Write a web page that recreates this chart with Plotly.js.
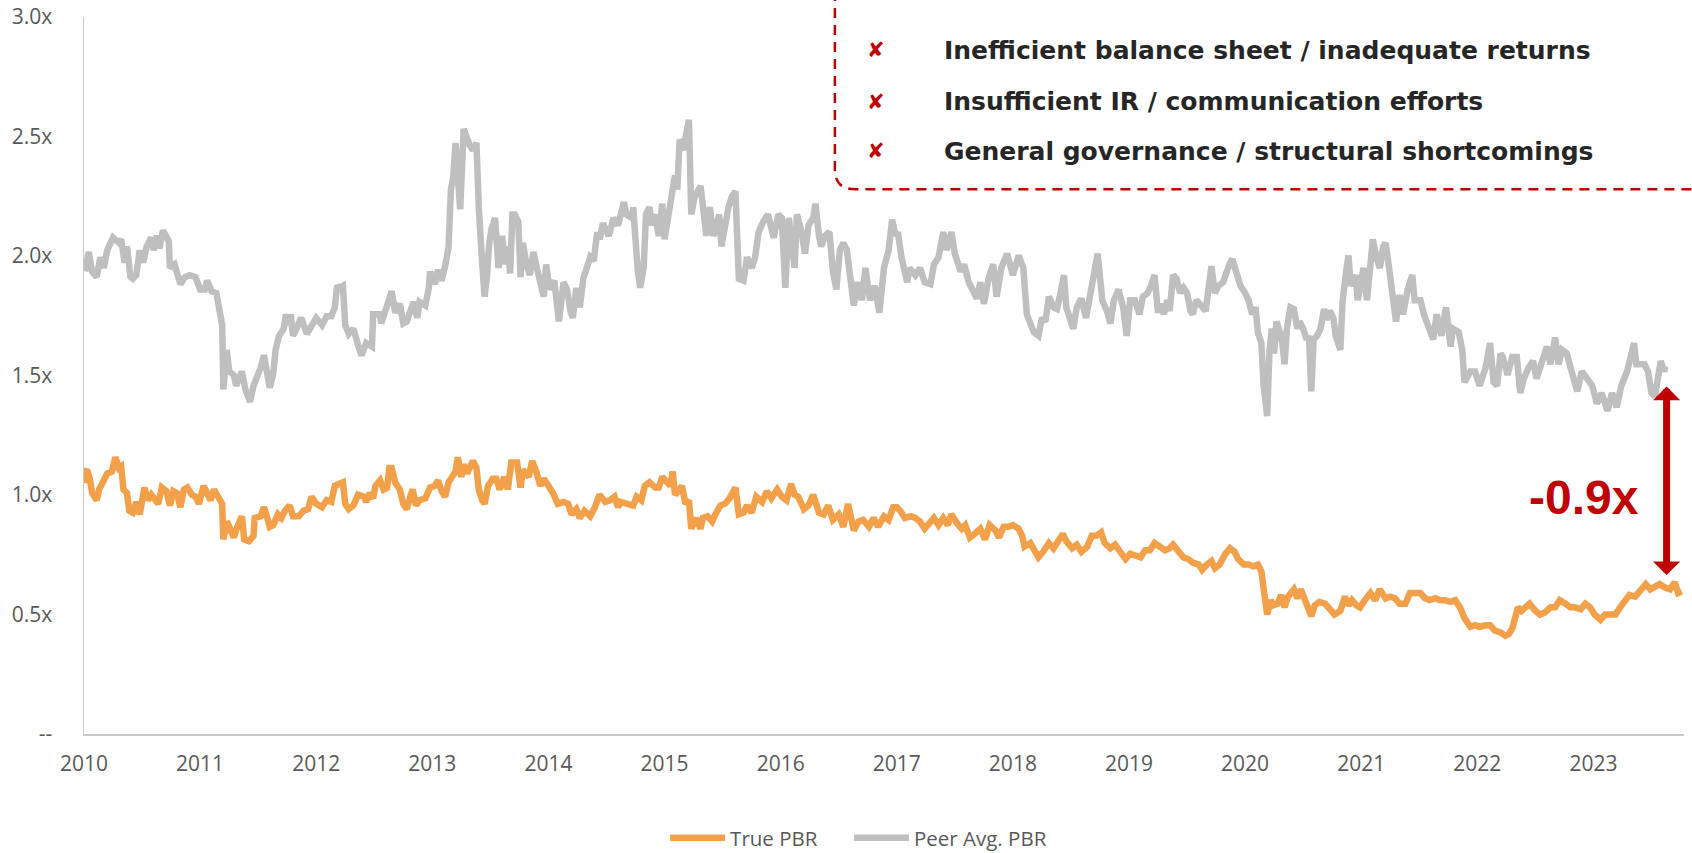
<!DOCTYPE html>
<html>
<head>
<meta charset="utf-8">
<script src="https://cdn.plot.ly/plotly-3.0.1.min.js"></script>
<style>
html,body{margin:0;padding:0;background:#fff;}
#chart{width:1692px;height:853px;}
</style>
</head>
<body>
<div id="chart"></div>
<script>
// ---------- DATA ----------
const yearTicks = [2010, 2011, 2012, 2013, 2014, 2015, 2016, 2017, 2018, 2019, 2020, 2021, 2022, 2023];
const yTickVals = [0, 0.5, 1.0, 1.5, 2.0, 2.5, 3.0];
const yTickText = ['--', '0.5x', '1.0x', '1.5x', '2.0x', '2.5x', '3.0x'];
const seriesNames = ['True PBR', 'Peer Avg. PBR'];

// [decimal year, P/B multiple]
const truePBR = [
[2010.00,1.05],[2010.01,1.10],[2010.03,1.098],[2010.05,1.068],[2010.07,1.008],[2010.11,0.978],[2010.13,1.023],[2010.17,1.068],[2010.20,1.09],[2010.24,1.098],[2010.27,1.158],[2010.30,1.113],[2010.32,1.12],[2010.34,1.023],[2010.37,1.008],[2010.39,0.934],[2010.42,0.926],[2010.45,0.971],[2010.48,0.919],[2010.52,1.031],[2010.55,0.978],[2010.58,1.001],[2010.61,0.978],[2010.64,0.963],[2010.67,1.031],[2010.71,1.016],[2010.74,0.956],[2010.77,1.016],[2010.80,1.008],[2010.83,0.949],[2010.86,1.023],[2010.89,1.031],[2010.93,1.001],[2010.96,0.993],[2010.99,0.963],
[2011.03,1.038],[2011.06,1.008],[2011.09,0.978],[2011.12,1.023],[2011.16,0.993],[2011.19,0.963],[2011.20,0.814],[2011.23,0.889],[2011.26,0.859],[2011.29,0.822],[2011.32,0.867],[2011.36,0.911],[2011.38,0.814],[2011.42,0.807],[2011.46,0.829],[2011.47,0.904],[2011.52,0.911],[2011.55,0.949],[2011.57,0.919],[2011.60,0.867],[2011.63,0.874],[2011.67,0.919],[2011.70,0.904],[2011.73,0.934],[2011.77,0.956],[2011.80,0.911],[2011.85,0.911],[2011.89,0.934],[2011.93,0.941],[2011.96,0.993],
[2012.00,0.963],[2012.05,0.949],[2012.09,0.978],[2012.13,0.971],[2012.16,1.038],[2012.20,1.046],[2012.23,1.053],[2012.25,0.963],[2012.28,0.941],[2012.32,0.956],[2012.36,1.001],[2012.41,0.993],[2012.43,0.971],[2012.46,1.008],[2012.49,0.986],[2012.51,1.038],[2012.55,1.061],[2012.58,1.023],[2012.61,1.031],[2012.63,1.113],[2012.65,1.113],[2012.68,1.053],[2012.72,1.023],[2012.75,0.963],[2012.78,0.941],[2012.81,0.993],[2012.83,1.023],[2012.86,0.956],[2012.89,0.978],[2012.94,0.986],[2012.98,1.031],
[2013.02,1.038],[2013.05,1.061],[2013.08,1.016],[2013.11,0.993],[2013.14,1.053],[2013.17,1.083],[2013.20,1.098],[2013.22,1.158],[2013.25,1.076],[2013.27,1.128],[2013.30,1.09],[2013.32,1.113],[2013.35,1.143],[2013.38,1.113],[2013.40,1.023],[2013.43,0.978],[2013.45,0.963],[2013.48,1.038],[2013.52,1.068],[2013.55,1.068],[2013.58,1.023],[2013.62,1.076],[2013.65,1.023],[2013.68,1.136],[2013.73,1.136],[2013.76,1.031],[2013.78,1.106],[2013.83,1.076],[2013.86,1.143],[2013.90,1.09],[2013.93,1.038],[2013.96,1.068],
[2014.00,1.038],[2014.04,1.008],[2014.08,0.963],[2014.13,0.971],[2014.17,0.963],[2014.20,0.919],[2014.24,0.941],[2014.27,0.904],[2014.31,0.934],[2014.36,0.911],[2014.40,0.949],[2014.44,1.001],[2014.49,0.971],[2014.53,0.978],[2014.57,0.993],[2014.60,0.949],[2014.62,0.971],[2014.67,0.963],[2014.73,0.956],[2014.76,0.993],[2014.80,0.978],[2014.83,1.038],[2014.87,1.053],[2014.92,1.031],[2014.95,1.031],[2014.98,1.076],
[2015.02,1.053],[2015.05,1.038],[2015.07,1.098],[2015.09,1.001],[2015.12,1.016],[2015.15,1.038],[2015.18,0.963],[2015.21,0.978],[2015.23,0.859],[2015.27,0.904],[2015.31,0.859],[2015.33,0.904],[2015.37,0.911],[2015.41,0.889],[2015.43,0.911],[2015.48,0.956],[2015.52,0.963],[2015.56,0.986],[2015.61,1.031],[2015.64,0.919],[2015.68,0.926],[2015.71,0.956],[2015.75,0.926],[2015.79,0.993],[2015.84,0.971],[2015.88,1.016],[2015.92,0.986],[2015.97,1.023],
[2016.01,0.993],[2016.05,0.978],[2016.09,1.046],[2016.12,1.001],[2016.15,0.993],[2016.20,0.941],[2016.24,0.956],[2016.28,1.001],[2016.33,0.926],[2016.37,0.919],[2016.41,0.956],[2016.45,0.896],[2016.50,0.919],[2016.54,0.867],[2016.58,0.963],[2016.63,0.852],[2016.67,0.889],[2016.71,0.896],[2016.76,0.867],[2016.80,0.904],[2016.84,0.867],[2016.89,0.911],[2016.93,0.896],[2016.97,0.949],
[2017.00,0.949],[2017.03,0.934],[2017.07,0.904],[2017.12,0.911],[2017.16,0.904],[2017.20,0.889],[2017.24,0.859],[2017.29,0.889],[2017.32,0.904],[2017.36,0.874],[2017.40,0.904],[2017.44,0.874],[2017.47,0.919],[2017.52,0.881],[2017.56,0.859],[2017.59,0.874],[2017.63,0.822],[2017.67,0.837],[2017.72,0.859],[2017.76,0.814],[2017.80,0.874],[2017.85,0.852],[2017.88,0.822],[2017.92,0.867],[2017.96,0.867],
[2018.00,0.874],[2018.05,0.859],[2018.08,0.829],[2018.10,0.784],[2018.15,0.799],[2018.18,0.769],[2018.22,0.739],[2018.26,0.762],[2018.31,0.799],[2018.35,0.777],[2018.39,0.814],[2018.43,0.837],[2018.46,0.807],[2018.51,0.777],[2018.55,0.792],[2018.59,0.762],[2018.64,0.784],[2018.68,0.829],[2018.72,0.829],[2018.76,0.844],[2018.79,0.799],[2018.84,0.777],[2018.88,0.792],[2018.92,0.769],[2018.97,0.732],
[2019.01,0.754],[2019.05,0.747],[2019.10,0.739],[2019.14,0.769],[2019.18,0.769],[2019.22,0.799],[2019.27,0.784],[2019.31,0.769],[2019.35,0.777],[2019.38,0.792],[2019.43,0.762],[2019.47,0.739],[2019.51,0.732],[2019.55,0.717],[2019.60,0.709],[2019.63,0.687],[2019.67,0.709],[2019.71,0.724],[2019.74,0.694],[2019.78,0.709],[2019.83,0.754],[2019.87,0.777],[2019.91,0.762],[2019.94,0.732],[2019.99,0.709],
[2020.03,0.709],[2020.07,0.702],[2020.11,0.709],[2020.14,0.68],[2020.16,0.59],[2020.19,0.5],[2020.22,0.56],[2020.24,0.538],[2020.28,0.545],[2020.31,0.582],[2020.34,0.53],[2020.37,0.575],[2020.42,0.605],[2020.45,0.568],[2020.48,0.605],[2020.52,0.56],[2020.54,0.538],[2020.57,0.493],[2020.60,0.538],[2020.64,0.553],[2020.69,0.545],[2020.73,0.522],[2020.77,0.5],[2020.82,0.515],[2020.86,0.575],[2020.89,0.538],[2020.92,0.56],[2020.96,0.538],[2020.99,0.53],
[2021.03,0.56],[2021.08,0.59],[2021.12,0.56],[2021.16,0.605],[2021.21,0.568],[2021.25,0.575],[2021.29,0.568],[2021.33,0.545],[2021.38,0.545],[2021.42,0.59],[2021.46,0.59],[2021.51,0.59],[2021.55,0.568],[2021.59,0.56],[2021.64,0.568],[2021.68,0.56],[2021.72,0.56],[2021.77,0.553],[2021.81,0.56],[2021.85,0.53],[2021.89,0.485],[2021.94,0.448],[2021.98,0.455],
[2022.02,0.448],[2022.07,0.455],[2022.11,0.455],[2022.15,0.433],[2022.20,0.425],[2022.24,0.411],[2022.27,0.418],[2022.30,0.44],[2022.33,0.5],[2022.35,0.53],[2022.38,0.515],[2022.41,0.53],[2022.45,0.545],[2022.50,0.515],[2022.54,0.5],[2022.58,0.508],[2022.63,0.53],[2022.67,0.53],[2022.71,0.56],[2022.76,0.545],[2022.80,0.53],[2022.84,0.53],[2022.89,0.522],[2022.93,0.545],[2022.97,0.53],
[2023.01,0.5],[2023.06,0.478],[2023.10,0.5],[2023.14,0.5],[2023.19,0.5],[2023.23,0.53],[2023.27,0.553],[2023.31,0.582],[2023.36,0.575],[2023.40,0.597],[2023.45,0.627],[2023.49,0.605],[2023.53,0.62],[2023.57,0.627],[2023.62,0.612],[2023.66,0.605],[2023.70,0.635],[2023.73,0.59],[2023.76,0.597]
];

const peerPBR = [
[2010.01,1.935],[2010.04,2.017],[2010.07,1.935],[2010.11,1.912],[2010.14,1.995],[2010.17,1.95],[2010.20,2.024],[2010.25,2.077],[2010.30,2.055],[2010.32,2.07],[2010.35,1.972],[2010.37,2.04],[2010.40,1.912],[2010.42,1.905],[2010.45,1.92],[2010.48,2.024],[2010.51,1.972],[2010.54,2.04],[2010.58,2.077],[2010.60,2.024],[2010.63,2.085],[2010.65,2.032],[2010.68,2.107],[2010.73,2.062],[2010.74,1.95],[2010.78,1.965],[2010.83,1.882],[2010.87,1.912],[2010.91,1.92],[2010.96,1.912],
[2011.00,1.86],[2011.04,1.86],[2011.06,1.897],[2011.10,1.852],[2011.14,1.845],[2011.16,1.785],[2011.19,1.711],[2011.20,1.442],[2011.23,1.607],[2011.25,1.517],[2011.29,1.502],[2011.31,1.457],[2011.36,1.517],[2011.39,1.442],[2011.43,1.39],[2011.46,1.457],[2011.49,1.487],[2011.52,1.531],[2011.55,1.584],[2011.57,1.539],[2011.60,1.449],[2011.63,1.509],[2011.65,1.607],[2011.68,1.666],[2011.72,1.696],[2011.74,1.756],[2011.76,1.711],[2011.78,1.756],[2011.80,1.666],[2011.83,1.696],[2011.87,1.741],[2011.92,1.674],[2011.96,1.711],
[2012.00,1.741],[2012.05,1.711],[2012.09,1.748],[2012.13,1.748],[2012.16,1.785],[2012.18,1.875],[2012.20,1.867],[2012.23,1.875],[2012.25,1.711],[2012.28,1.674],[2012.32,1.696],[2012.36,1.628],[2012.39,1.584],[2012.43,1.636],[2012.48,1.621],[2012.49,1.756],[2012.55,1.756],[2012.56,1.718],[2012.61,1.785],[2012.65,1.852],[2012.68,1.763],[2012.72,1.8],[2012.75,1.718],[2012.78,1.726],[2012.81,1.77],[2012.84,1.808],[2012.87,1.741],[2012.89,1.808],[2012.94,1.793],[2012.97,1.867],[2012.98,1.935],
[2013.02,1.882],[2013.05,1.942],[2013.08,1.897],[2013.11,1.957],[2013.14,2.04],[2013.16,2.278],[2013.18,2.331],[2013.20,2.473],[2013.22,2.353],[2013.24,2.196],[2013.27,2.532],[2013.30,2.488],[2013.32,2.465],[2013.35,2.443],[2013.38,2.473],[2013.40,2.204],[2013.41,2.084],[2013.43,1.965],[2013.45,1.83],[2013.47,1.912],[2013.49,2.055],[2013.51,2.114],[2013.54,2.159],[2013.55,2.04],[2013.57,1.95],[2013.60,2.084],[2013.63,1.965],[2013.65,2.04],[2013.67,1.927],[2013.69,2.174],[2013.71,2.174],[2013.74,2.144],[2013.76,1.912],[2013.78,2.055],[2013.81,1.965],[2013.84,1.92],[2013.87,2.017],[2013.90,1.95],[2013.93,1.875],[2013.96,1.83],[2013.98,1.965],
[2014.01,1.86],[2014.05,1.897],[2014.07,1.815],[2014.09,1.726],[2014.13,1.89],[2014.16,1.86],[2014.19,1.77],[2014.21,1.741],[2014.24,1.867],[2014.27,1.785],[2014.30,1.905],[2014.33,1.95],[2014.36,1.995],[2014.39,1.98],[2014.42,2.1],[2014.44,2.07],[2014.47,2.137],[2014.52,2.084],[2014.56,2.159],[2014.60,2.129],[2014.62,2.174],[2014.65,2.226],[2014.67,2.174],[2014.72,2.159],[2014.73,2.204],[2014.75,2.055],[2014.77,1.935],[2014.79,1.867],[2014.82,1.95],[2014.84,2.174],[2014.87,2.204],[2014.89,2.129],[2014.92,2.174],[2014.95,2.084],[2014.98,2.219],
[2015.00,2.07],[2015.03,2.159],[2015.06,2.263],[2015.09,2.338],[2015.11,2.278],[2015.13,2.488],[2015.16,2.443],[2015.19,2.503],[2015.21,2.57],[2015.23,2.174],[2015.26,2.249],[2015.31,2.293],[2015.33,2.204],[2015.36,2.084],[2015.39,2.204],[2015.42,2.084],[2015.45,2.129],[2015.47,2.174],[2015.49,2.04],[2015.52,2.144],[2015.55,2.204],[2015.58,2.249],[2015.61,2.271],[2015.64,1.905],[2015.68,1.897],[2015.71,1.995],[2015.75,1.95],[2015.78,1.995],[2015.81,2.1],[2015.85,2.144],[2015.89,2.174],[2015.94,2.077],[2015.98,2.174],
[2016.01,2.159],[2016.04,1.867],[2016.07,2.159],[2016.10,1.995],[2016.12,1.95],[2016.14,2.174],[2016.18,2.1],[2016.21,2.01],[2016.24,2.129],[2016.28,2.159],[2016.30,2.219],[2016.33,2.084],[2016.35,2.04],[2016.38,2.084],[2016.42,2.1],[2016.45,1.935],[2016.48,1.86],[2016.51,2.025],[2016.54,2.055],[2016.57,2.025],[2016.60,1.89],[2016.63,1.793],[2016.66,1.89],[2016.70,1.815],[2016.73,1.95],[2016.77,1.815],[2016.81,1.875],[2016.85,1.763],[2016.89,1.95],[2016.93,2.025],[2016.96,2.152],[2016.99,2.084],
[2017.01,2.1],[2017.04,1.995],[2017.09,1.89],[2017.11,1.95],[2017.16,1.92],[2017.20,1.95],[2017.24,1.89],[2017.29,1.882],[2017.32,1.965],[2017.36,1.995],[2017.40,2.1],[2017.43,2.025],[2017.47,2.1],[2017.50,2.01],[2017.55,1.935],[2017.58,1.965],[2017.62,1.89],[2017.66,1.845],[2017.69,1.822],[2017.72,1.89],[2017.75,1.8],[2017.79,1.905],[2017.83,1.965],[2017.86,1.83],[2017.90,1.95],[2017.95,2.01],[2017.98,1.965],
[2018.00,1.92],[2018.05,2.002],[2018.09,1.95],[2018.12,1.756],[2018.15,1.726],[2018.18,1.681],[2018.22,1.666],[2018.25,1.741],[2018.28,1.726],[2018.31,1.83],[2018.35,1.785],[2018.38,1.778],[2018.41,1.845],[2018.44,1.92],[2018.46,1.785],[2018.49,1.741],[2018.52,1.696],[2018.55,1.785],[2018.59,1.822],[2018.63,1.741],[2018.66,1.815],[2018.70,1.935],[2018.73,2.01],[2018.77,1.815],[2018.81,1.77],[2018.84,1.718],[2018.87,1.815],[2018.91,1.86],[2018.95,1.785],[2018.98,1.666],
[2019.01,1.815],[2019.05,1.815],[2019.09,1.756],[2019.12,1.83],[2019.16,1.845],[2019.19,1.875],[2019.22,1.92],[2019.25,1.763],[2019.27,1.8],[2019.30,1.756],[2019.33,1.815],[2019.35,1.77],[2019.38,1.92],[2019.41,1.905],[2019.44,1.845],[2019.47,1.867],[2019.50,1.845],[2019.53,1.77],[2019.55,1.756],[2019.58,1.815],[2019.61,1.8],[2019.66,1.77],[2019.68,1.845],[2019.71,1.957],[2019.74,1.845],[2019.77,1.875],[2019.81,1.89],[2019.84,1.942],[2019.87,1.972],[2019.89,1.987],[2019.92,1.935],[2019.96,1.875],
[2020.00,1.845],[2020.03,1.815],[2020.06,1.756],[2020.09,1.785],[2020.11,1.681],[2020.14,1.636],[2020.16,1.457],[2020.19,1.33],[2020.21,1.607],[2020.23,1.696],[2020.25,1.592],[2020.27,1.726],[2020.30,1.681],[2020.32,1.636],[2020.34,1.547],[2020.36,1.696],[2020.39,1.785],[2020.42,1.778],[2020.45,1.696],[2020.47,1.726],[2020.50,1.696],[2020.53,1.651],[2020.55,1.666],[2020.57,1.434],[2020.59,1.651],[2020.62,1.666],[2020.65,1.696],[2020.68,1.778],[2020.70,1.733],[2020.73,1.77],[2020.76,1.741],[2020.78,1.666],[2020.82,1.607],[2020.84,1.815],[2020.87,1.935],[2020.89,2.002],[2020.91,1.875],[2020.95,1.92],[2020.97,1.815],
[2021.00,1.92],[2021.02,1.95],[2021.05,1.815],[2021.08,1.98],[2021.10,2.07],[2021.13,1.995],[2021.16,1.95],[2021.19,2.04],[2021.21,2.055],[2021.24,1.95],[2021.27,1.845],[2021.30,1.726],[2021.33,1.837],[2021.36,1.756],[2021.40,1.86],[2021.44,1.92],[2021.46,1.815],[2021.51,1.815],[2021.54,1.756],[2021.58,1.703],[2021.62,1.651],[2021.65,1.756],[2021.69,1.666],[2021.73,1.785],[2021.77,1.621],[2021.79,1.696],[2021.84,1.681],[2021.87,1.607],[2021.89,1.472],[2021.94,1.517],[2021.98,1.517],
[2022.02,1.457],[2022.07,1.531],[2022.11,1.636],[2022.14,1.472],[2022.17,1.457],[2022.20,1.592],[2022.22,1.577],[2022.26,1.502],[2022.30,1.577],[2022.34,1.577],[2022.37,1.427],[2022.40,1.487],[2022.44,1.531],[2022.48,1.561],[2022.51,1.487],[2022.55,1.547],[2022.60,1.621],[2022.63,1.547],[2022.67,1.659],[2022.70,1.547],[2022.73,1.607],[2022.77,1.592],[2022.81,1.517],[2022.86,1.434],[2022.90,1.517],[2022.94,1.487],[2022.99,1.457],
[2023.03,1.382],[2023.07,1.427],[2023.12,1.352],[2023.16,1.427],[2023.20,1.367],[2023.24,1.457],[2023.29,1.517],[2023.32,1.577],[2023.35,1.636],[2023.37,1.547],[2023.40,1.547],[2023.44,1.547],[2023.47,1.517],[2023.50,1.427],[2023.53,1.412],[2023.55,1.487],[2023.58,1.561],[2023.61,1.517],[2023.62,1.539]
];

const reasons = [
  'Inefficient balance sheet / inadequate returns',
  'Insufficient IR / communication efforts',
  'General governance / structural shortcomings'
];
const gapLabel = '-0.9x';
const gapYear = 2023.63;
const gapTop = 1.46;
const gapBottom = 0.665;

// ---------- CHART ----------
const RED = '#C00000';
const AXIS_GREY = '#C9C9C9';
const TEXT_GREY = '#595959';

const traces = [
  {
    x: truePBR.map(p => p[0]), y: truePBR.map(p => p[1]),
    type: 'scatter', mode: 'lines', name: seriesNames[0],
    line: {color: '#F3A04A', width: 6.5},
    hoverinfo: 'skip', legend: 'legend'
  },
  {
    x: peerPBR.map(p => p[0]), y: peerPBR.map(p => p[1]),
    type: 'scatter', mode: 'lines', name: seriesNames[1],
    line: {color: '#BFBFBF', width: 6.5},
    hoverinfo: 'skip', legend: 'legend2'
  }
];

const rowY = [0.9539, 0.882, 0.8128];
const annotations = [];
reasons.forEach((r, i) => {
  annotations.push({
    xref: 'paper', yref: 'paper', x: 0.495, y: rowY[i],
    xanchor: 'center', yanchor: 'middle', showarrow: false,
    text: '✘', font: {family: 'DejaVu Sans', size: 21, color: RED}
  });
  annotations.push({
    xref: 'paper', yref: 'paper', x: 0.5363, y: rowY[i],
    xanchor: 'left', yanchor: 'middle', showarrow: false,
    text: '<b>' + r + '</b>',
    font: {family: 'DejaVu Sans', size: 25, color: '#262626'}
  });
});
annotations.push({
  xref: 'paper', yref: 'paper', x: 0.9374, y: 0.3296,
  xanchor: 'center', yanchor: 'middle', showarrow: false,
  text: '<b>' + gapLabel + '</b>',
  font: {family: 'Liberation Sans', size: 48, color: RED}
});
annotations.push({
  xref: 'x', yref: 'y', axref: 'x', ayref: 'y',
  x: gapYear, y: gapBottom, ax: gapYear, ay: gapTop,
  text: '', showarrow: true, arrowside: 'end+start',
  arrowhead: 1, startarrowhead: 1, arrowsize: 0.65, startarrowsize: 0.65,
  arrowwidth: 7, arrowcolor: RED, standoff: 0, startstandoff: 0
});

const legendBase = {
  orientation: 'h', xanchor: 'left', y: -0.145, yanchor: 'middle',
  font: {family: 'Open Sans', size: 20.5, color: TEXT_GREY},
  itemwidth: 55, bgcolor: 'rgba(0,0,0,0)'
};

const layout = {
  width: 1692, height: 853,
  margin: {l: 84, r: 8, t: 17, b: 119, pad: 0, autoexpand: false},
  paper_bgcolor: '#ffffff', plot_bgcolor: '#ffffff',
  showlegend: true,
  legend: Object.assign({}, legendBase, {x: 0.3632}),
  legend2: Object.assign({}, legendBase, {x: 0.4781}),
  xaxis: {
    range: [2010, 2023.78], tickvals: yearTicks, ticktext: yearTicks.map(String),
    showgrid: false, zeroline: false, showline: true, linecolor: AXIS_GREY, linewidth: 1.5,
    ticks: '', ticklabelstandoff: 10,
    tickfont: {family: 'Open Sans', size: 21, color: TEXT_GREY}, fixedrange: true
  },
  yaxis: {
    range: [0, 3], tickvals: yTickVals, ticktext: yTickText,
    showgrid: false, zeroline: false, showline: true, linecolor: AXIS_GREY, linewidth: 1.5,
    ticks: '', ticklabelstandoff: 26,
    tickfont: {family: 'Open Sans', size: 21, color: TEXT_GREY}, fixedrange: true
  },
  shapes: [{
    type: 'path', xref: 'paper', yref: 'paper', layer: 'above',
    path: 'M 0.4693 1.06 L 0.4693 0.7877 Q 0.4693 0.7598 0.4818 0.7598 L 1.03 0.7598',
    line: {color: RED, width: 2.5, dash: '10px,7px'}
  }],
  annotations: annotations
};

Plotly.newPlot('chart', traces, layout, {displayModeBar: false, staticPlot: true});
</script>
</body>
</html>
